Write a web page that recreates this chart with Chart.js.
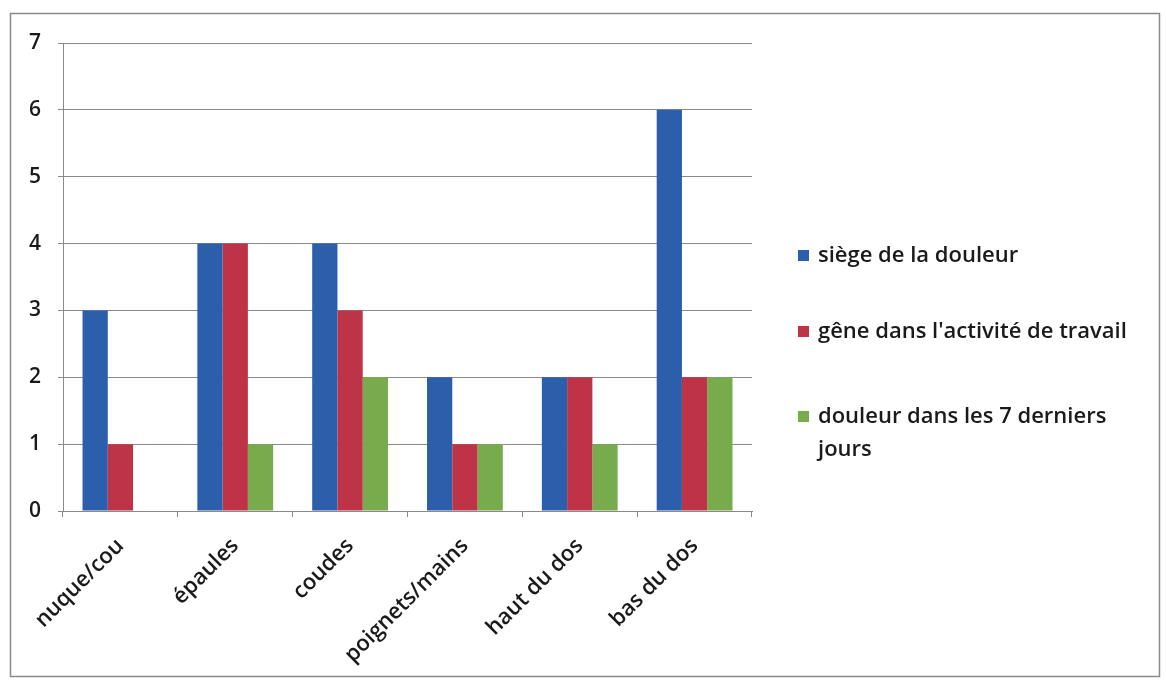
<!DOCTYPE html>
<html>
<head>
<meta charset="utf-8">
<script src="https://cdn.jsdelivr.net/npm/chart.js@4.4.0/dist/chart.umd.min.js"></script>
<style>
  html, body { margin: 0; padding: 0; background: #fff; }
  #wrap { position: relative; width: 1166px; height: 682px; }
</style>
</head>
<body>
<div id="wrap"><canvas id="c" width="1166" height="682"></canvas></div>
<script>
const categories = ["nuque/cou", "épaules", "coudes", "poignets/mains", "haut du dos", "bas du dos"];
const siegeDouleur = [3, 4, 4, 2, 2, 6];
const geneTravail = [1, 4, 3, 1, 2, 2];
const douleur7Jours = [0, 1, 2, 1, 1, 2];
const seriesNames = ["siège de la douleur", "gêne dans l'activité de travail", ["douleur dans les 7 derniers", "jours"]];
const seriesColors = ["#2C5FAB", "#BE3446", "#78AB4C"];
const yTicks = [0, 1, 2, 3, 4, 5, 6, 7];

const FONT = "'Open Sans', Lato, sans-serif";

const frameAndLegend = {
  id: 'frameAndLegend',
  beforeDraw(chart) {
    const ctx = chart.ctx;
    ctx.save();
    ctx.fillStyle = '#fff';
    ctx.fillRect(0, 0, chart.width, chart.height);
    ctx.strokeStyle = '#8a8a8a';
    ctx.lineWidth = 1.5;
    ctx.strokeRect(10.5, 13.5, 1149, 663);
    ctx.restore();
  },
  afterDraw(chart) {
    const ctx = chart.ctx;
    ctx.save();
    const ys = [256, 332, 417];
    ctx.font = "600 22px " + FONT;
    ctx.textBaseline = 'middle';
    ctx.textAlign = 'left';
    chart.data.datasets.forEach((ds, i) => {
      ctx.fillStyle = ds.backgroundColor;
      ctx.fillRect(798, ys[i] - 6, 11, 11);
      ctx.fillStyle = '#1a1a1a';
      const lines = Array.isArray(ds.label) ? ds.label : [ds.label];
      lines.forEach((t, j) => ctx.fillText(t, 818, ys[i] + j * 33));
    });
    ctx.restore();
  }
};

new Chart(document.getElementById('c'), {
  type: 'bar',
  data: {
    labels: categories,
    datasets: [
      { label: seriesNames[0], data: siegeDouleur, backgroundColor: seriesColors[0] },
      { label: seriesNames[1], data: geneTravail, backgroundColor: seriesColors[1] },
      { label: seriesNames[2], data: douleur7Jours, backgroundColor: seriesColors[2] }
    ]
  },
  options: {
    responsive: false,
    animation: false,
    devicePixelRatio: 1,
    layout: { padding: { left: 0, top: 43, right: 414, bottom: 0 } },
    datasets: { bar: { categoryPercentage: 0.66, barPercentage: 1.0 } },
    plugins: { legend: { display: false }, tooltip: { enabled: false } },
    scales: {
      x: {
        afterFit(scale) { scale.height = 171; },
        grid: { display: true, offset: true, drawOnChartArea: false, drawTicks: true, tickLength: 6, color: '#8a8a8a' },
        border: { display: true, color: '#8a8a8a', width: 1 },
        ticks: { maxRotation: 45, minRotation: 45, padding: 16, color: '#1a1a1a', font: { family: FONT, size: 22, weight: '600' } }
      },
      y: {
        min: 0, max: 7,
        afterFit(scale) { scale.width = 63; },
        afterBuildTicks(scale) { scale.ticks = yTicks.map(v => ({ value: v })); },
        grid: { color: '#8a8a8a', tickLength: 5, lineWidth: 1 },
        border: { display: true, color: '#8a8a8a', width: 1 },
        ticks: { padding: 17, color: '#1a1a1a', font: { family: FONT, size: 21, weight: '600' } }
      }
    }
  },
  plugins: [frameAndLegend]
});
</script>
</body>
</html>
